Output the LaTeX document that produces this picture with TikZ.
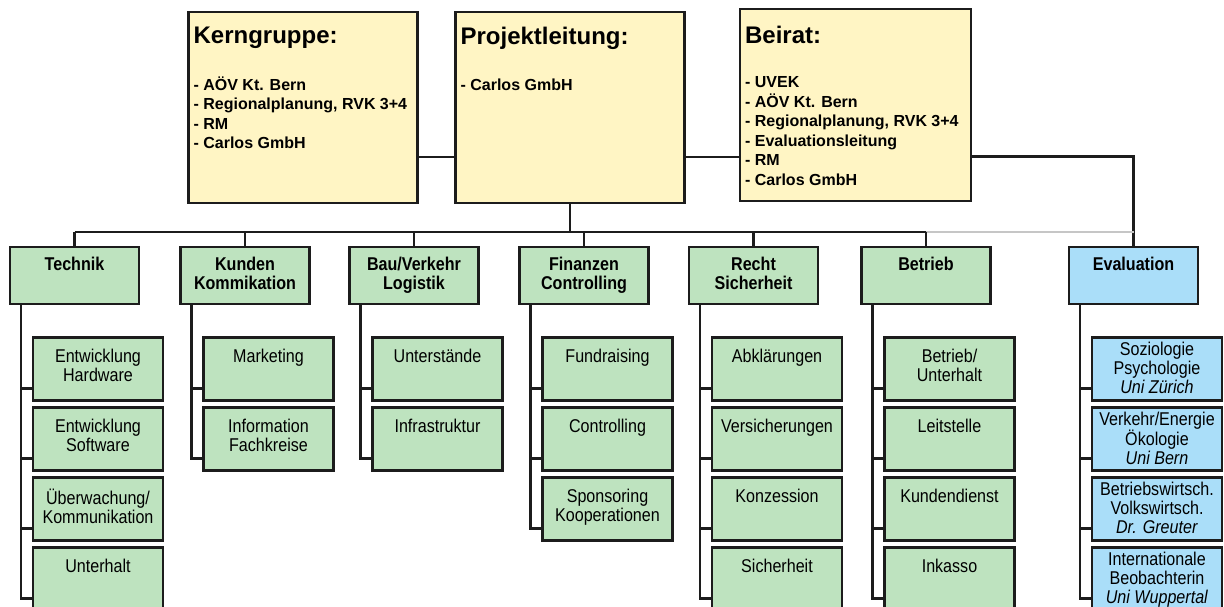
\documentclass[tikz,border=0pt]{standalone}
\usepackage{fontspec}
\setmainfont{Liberation Sans}
\newfontfamily\narrowfont{Liberation Sans}[FakeStretch=0.87]
\usepackage{tikz}
\usetikzlibrary{positioning}

\definecolor{boardfill}{RGB}{255,245,196}
\definecolor{unitfill}{RGB}{190,227,191}
\definecolor{evalfill}{RGB}{170,222,249}
\definecolor{linec}{RGB}{28,28,28}

\newcommand{\headfont}{\fontsize{24}{28}\selectfont\bfseries}
\newcommand{\listfont}{\fontsize{16}{19.5}\selectfont\bfseries}
\newcommand{\unitfont}{\narrowfont\fontsize{18.5}{19}\selectfont\bfseries}
\newcommand{\taskfont}{\narrowfont\fontsize{18.5}{19}\selectfont}

\begin{document}
\begin{tikzpicture}[
  x=1pt, y=-1pt,
  box/.style={draw=linec, line width=2.2pt, inner sep=0pt},
  board/.style={box, fill=boardfill, minimum width=229pt, minimum height=191pt},
  head/.style={anchor=north west, inner sep=0pt, font=\headfont},
  members/.style={anchor=north west, inner sep=0pt, align=left, font=\listfont},
  unittext/.style={anchor=north, yshift=-11pt, inner sep=0pt, align=center, font=\unitfont},
  tasktext/.style={anchor=north, yshift=-12pt, inner sep=0pt, align=center, font=\taskfont},
  unit/.style={box, fill=unitfill, minimum width=129pt, minimum height=57pt, label={[unittext]north:#1}},
  task/.style={box, fill=unitfill, minimum width=130pt, minimum height=63pt, label={[tasktext]north:#1}},
  evalunit/.style={box, fill=evalfill, minimum width=129pt, minimum height=57pt, label={[unittext]north:#1}},
  evaltask/.style={box, fill=evalfill, minimum width=130pt, minimum height=63pt, label={[tasktext, yshift=7pt]north:#1}},
  link/.style={draw=linec, line width=2.2pt}
  ]

  \useasboundingbox (0,0) rectangle (1224,606);
  \clip (0,0) rectangle (1224,606);

  % The three boards on top
  \node[board] (kern) at (303,107.5) {};
  \node[board] (proj) at (570,107.5) {};
  \node[board, minimum width=231pt, minimum height=192pt] (beirat) at (855.5,105) {};

  \node[head] (kernhead) at ([shift={(6pt,-16pt)}]kern.north west) {Kerngruppe:};
  \node[members] (kernlist) at ([shift={(6pt,-65.5pt)}]kern.north west)
    {- AÖV Kt. Bern\\- Regionalplanung, RVK 3+4\\- RM\\- Carlos GmbH};

  \node[head] (projhead) at ([shift={(6pt,-16pt)}]proj.north west) {Projektleitung:};
  \node[members] (projlist) at ([shift={(6pt,-68.3pt)}]proj.north west) {- Carlos GmbH};

  \node[head] (beirathead) at ([shift={(6pt,-18pt)}]beirat.north west) {Beirat:};
  \node[members] (beiratlist) at ([shift={(6pt,-68.5pt)}]beirat.north west)
    {- UVEK\\- AÖV Kt. Bern\\- Regionalplanung, RVK 3+4\\- Evaluationsleitung\\- RM\\- Carlos GmbH};

  % Units
  \node[unit=Technik] (tech) at (74.5,275.5) {};
  \node[unit={Kunden\\Kommikation}] (kund) at (245,275.5) {};
  \node[unit={Bau/Verkehr\\Logistik}] (bau) at (414,275.5) {};
  \node[unit={Finanzen\\Controlling}] (fin) at (584,275.5) {};
  \node[unit={Recht\\Sicherheit}] (recht) at (753.5,275.5) {};
  \node[unit=Betrieb] (betr) at (926,275.5) {};
  \node[evalunit=Evaluation] (eval) at (1133.5,275.5) {};

  % Tasks of each unit
  \node[task={Entwicklung\\Hardware}] (tech1) at (98,369) {};
  \node[task={Entwicklung\\Software}] (tech2) at (98,439) {};
  \node[task={Überwachung/\\Kommunikation}] (tech3) at (98,509) {};
  \node[task=Unterhalt] (tech4) at (98,579) {};

  \node[task=Marketing] (kund1) at (268.5,369) {};
  \node[task={Information\\Fachkreise}] (kund2) at (268.5,439) {};

  \node[task=Unterstände] (bau1) at (437.5,369) {};
  \node[task=Infrastruktur] (bau2) at (437.5,439) {};

  \node[task=Fundraising] (fin1) at (607.5,369) {};
  \node[task=Controlling] (fin2) at (607.5,439) {};
  \node[task={Sponsoring\\Kooperationen}] (fin3) at (607.5,509) {};

  \node[task=Abklärungen] (recht1) at (777,369) {};
  \node[task=Versicherungen] (recht2) at (777,439) {};
  \node[task=Konzession] (recht3) at (777,509) {};
  \node[task=Sicherheit] (recht4) at (777,579) {};

  \node[task={Betrieb/\\Unterhalt}] (betr1) at (949.5,369) {};
  \node[task=Leitstelle] (betr2) at (949.5,439) {};
  \node[task=Kundendienst] (betr3) at (949.5,509) {};
  \node[task=Inkasso] (betr4) at (949.5,579) {};

  \node[evaltask={Soziologie\\Psychologie\\\textit{Uni Zürich}}] (eval1) at (1157,369) {};
  \node[evaltask={Verkehr/Energie\\Ökologie\\\textit{Uni Bern}}] (eval2) at (1157,439) {};
  \node[evaltask={Betriebswirtsch.\\Volkswirtsch.\\\textit{Dr. Greuter}}] (eval3) at (1157,509) {};
  \node[evaltask={Internationale\\Beobachterin\\\textit{Uni Wuppertal}}] (eval4) at (1157,579) {};

  % Links between the boards
  \draw[link] ([yshift=-49.5pt]kern.east) -- ([yshift=-49.5pt]proj.west);
  \draw[link] ([yshift=-49.5pt]proj.east) -- ([yshift=-49.5pt]proj.east -| beirat.west);
  \draw[link] ([yshift=-51.5pt]beirat.east) -| (eval.north);

  % Bus down to the units
  \coordinate (bus) at (570,232);
  \draw[link] (proj.south) -- (bus);
  \draw[link] (bus -| tech.north) -- (bus -| betr.north);
  \draw[link, draw=gray!45, line width=1.6pt] (bus -| betr.north) -- (bus -| eval.north);
  \foreach \u in {tech,kund,bau,fin,recht,betr}
    \draw[link] (bus -| \u.north) -- (\u.north);

  % Trunks and ticks to the tasks
  \draw[link] ([xshift=12pt]tech.south west) |- ([yshift=-19.5pt]tech4.west);
  \draw[link] ([xshift=12pt]kund.south west) |- ([yshift=-19.5pt]kund2.west);
  \draw[link] ([xshift=12pt]bau.south west) |- ([yshift=-19.5pt]bau2.west);
  \draw[link] ([xshift=12pt]fin.south west) |- ([yshift=-19.5pt]fin3.west);
  \draw[link] ([xshift=12pt]recht.south west) |- ([yshift=-19.5pt]recht4.west);
  \draw[link] ([xshift=12pt]betr.south west) |- ([yshift=-19.5pt]betr4.west);
  \draw[link] ([xshift=12pt]eval.south west) |- ([yshift=-19.5pt]eval4.west);
  \foreach \t in {tech1,tech2,tech3,kund1,bau1,fin1,fin2,recht1,recht2,recht3,betr1,betr2,betr3,eval1,eval2,eval3}
    \draw[link] ([yshift=-19.5pt]\t.west) -- ++(-11pt,0);

\end{tikzpicture}
\end{document}
